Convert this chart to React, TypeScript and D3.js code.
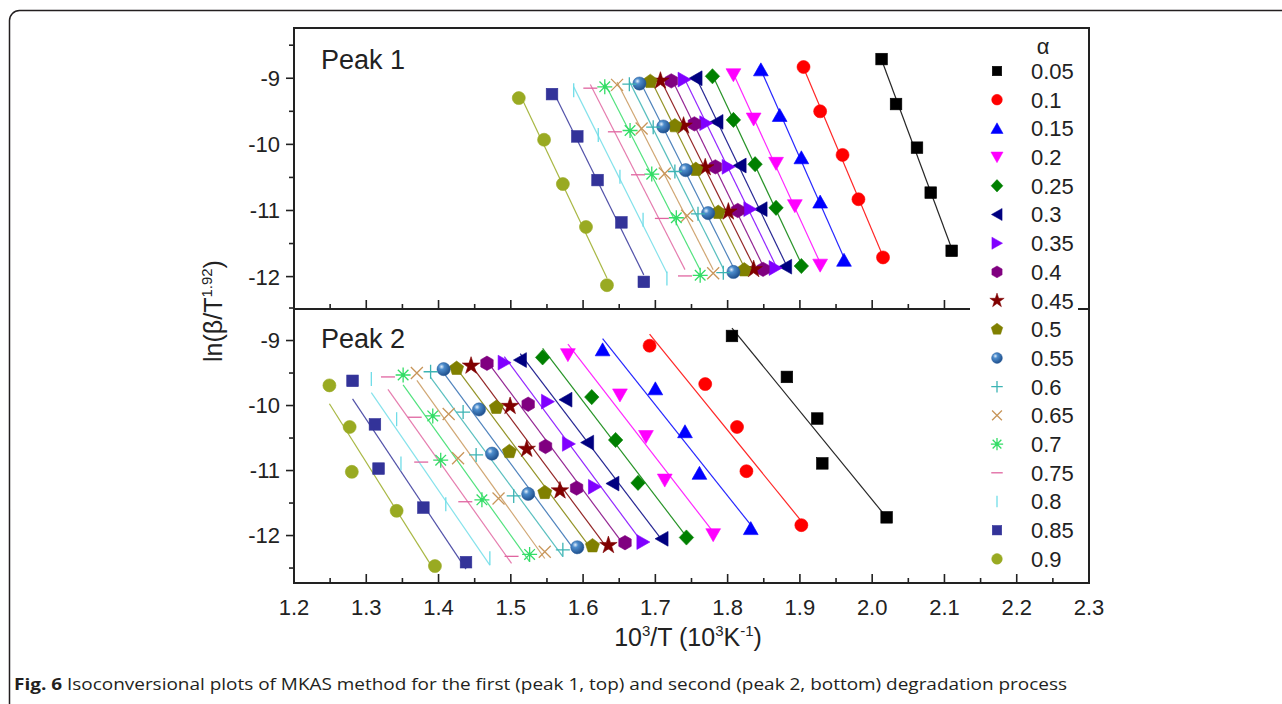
import React from "react";
import * as d3 from "d3";

// conversion levels (legend) and marker styles
const alphas = ["0.05", "0.1", "0.15", "0.2", "0.25", "0.3", "0.35", "0.4", "0.45", "0.5", "0.55", "0.6", "0.65", "0.7", "0.75", "0.8", "0.85", "0.9"];
const colors = ["#000000", "#ff0000", "#0000ff", "#ff00ff", "#008000", "#000080", "#8000ff", "#800080", "#800000", "#808000", "#2f6cb0", "#3cb4b4", "#c8965a", "#33dd66", "#e065a0", "#70dde8", "#333399", "#99aa22"];
const shapes = ["square", "circle", "triUp", "triDown", "diamond", "triLeft", "triRight", "hexagon", "star", "pentagon", "sphere", "plus", "cross", "asterisk", "dash", "bar", "square", "circle"];

// Peak 1 (top): 10^3/T and ln(beta/T^1.92), one row per alpha
const peak1X = [
  [2.013, 2.033, 2.062, 2.081, 2.11],
  [1.905, 1.928, 1.959, 1.981, 2.015],
  [1.846, 1.872, 1.902, 1.928, 1.961],
  [1.808, 1.836, 1.867, 1.893, 1.928],
  [1.779, 1.808, 1.838, 1.867, 1.902],
  [1.756, 1.785, 1.817, 1.846, 1.88],
  [1.74, 1.77, 1.801, 1.831, 1.866],
  [1.722, 1.754, 1.783, 1.814, 1.849],
  [1.707, 1.739, 1.769, 1.801, 1.836],
  [1.693, 1.727, 1.756, 1.787, 1.823],
  [1.678, 1.711, 1.742, 1.773, 1.808],
  [1.664, 1.697, 1.727, 1.759, 1.794],
  [1.647, 1.681, 1.713, 1.744, 1.78],
  [1.63, 1.665, 1.695, 1.729, 1.762],
  [1.61, 1.644, 1.676, 1.709, 1.741],
  [1.587, 1.621, 1.651, 1.683, 1.716],
  [1.557, 1.592, 1.62, 1.653, 1.684],
  [1.511, 1.546, 1.572, 1.604, 1.633],
];
const peak1Y = [
  [-8.71, -9.39, -10.05, -10.73, -11.61],
  [-8.83, -9.5, -10.16, -10.83, -11.71],
  [-8.87, -9.56, -10.2, -10.87, -11.75],
  [-8.95, -9.62, -10.29, -10.93, -11.83],
  [-8.97, -9.63, -10.3, -10.96, -11.84],
  [-9.0, -9.66, -10.32, -10.98, -11.85],
  [-9.02, -9.68, -10.34, -10.98, -11.87],
  [-9.04, -9.69, -10.34, -11.0, -11.89],
  [-9.04, -9.72, -10.35, -11.02, -11.89],
  [-9.05, -9.72, -10.38, -11.03, -11.9],
  [-9.08, -9.73, -10.39, -11.04, -11.93],
  [-9.09, -9.74, -10.41, -11.05, -11.94],
  [-9.1, -9.76, -10.44, -11.08, -11.95],
  [-9.13, -9.79, -10.45, -11.11, -11.98],
  [-9.15, -9.81, -10.46, -11.12, -11.99],
  [-9.18, -9.86, -10.49, -11.14, -12.03],
  [-9.24, -9.88, -10.54, -11.18, -12.08],
  [-9.3, -9.93, -10.6, -11.25, -12.13],
];

// Peak 2 (bottom)
const peak2X = [
  [1.806, 1.882, 1.924, 1.931, 2.02],
  [1.692, 1.769, 1.813, 1.826, 1.902],
  [1.627, 1.7, 1.741, 1.761, 1.832],
  [1.579, 1.651, 1.687, 1.713, 1.78],
  [1.544, 1.612, 1.645, 1.676, 1.743],
  [1.513, 1.576, 1.606, 1.641, 1.709],
  [1.491, 1.551, 1.58, 1.616, 1.683],
  [1.467, 1.524, 1.548, 1.591, 1.658],
  [1.445, 1.499, 1.522, 1.568, 1.635],
  [1.425, 1.48, 1.498, 1.547, 1.613],
  [1.407, 1.456, 1.474, 1.524, 1.592],
  [1.389, 1.434, 1.452, 1.504, 1.572],
  [1.37, 1.414, 1.427, 1.483, 1.547],
  [1.351, 1.392, 1.403, 1.46, 1.526],
  [1.33, 1.367, 1.376, 1.437, 1.501],
  [1.307, 1.342, 1.348, 1.41, 1.471],
  [1.281, 1.312, 1.317, 1.379, 1.438],
  [1.249, 1.277, 1.28, 1.342, 1.395],
];
const peak2Y = [
  [-8.93, -9.56, -10.2, -10.89, -11.72],
  [-9.08, -9.67, -10.33, -11.01, -11.84],
  [-9.14, -9.74, -10.4, -11.04, -11.89],
  [-9.22, -9.84, -10.48, -11.15, -11.99],
  [-9.26, -9.87, -10.53, -11.19, -12.03],
  [-9.3, -9.91, -10.57, -11.2, -12.05],
  [-9.34, -9.94, -10.59, -11.25, -12.1],
  [-9.35, -9.98, -10.63, -11.27, -12.11],
  [-9.39, -10.01, -10.67, -11.31, -12.15],
  [-9.43, -10.03, -10.71, -11.34, -12.16],
  [-9.44, -10.06, -10.74, -11.36, -12.18],
  [-9.48, -10.1, -10.76, -11.39, -12.22],
  [-9.5, -10.13, -10.81, -11.43, -12.25],
  [-9.53, -10.16, -10.84, -11.45, -12.29],
  [-9.56, -10.18, -10.87, -11.48, -12.32],
  [-9.59, -10.21, -10.89, -11.52, -12.35],
  [-9.62, -10.29, -10.97, -11.57, -12.41],
  [-9.69, -10.33, -11.02, -11.62, -12.47],
];

const yTickVals = [-9, -10, -11, -12];
const yMinorVals = [-8.5, -9.5, -10.5, -11.5, -12.5];

const FONT = "Liberation Sans, Arial, Helvetica, sans-serif";
const txt = { fontFamily: FONT };

const left = 294, right = 1089, top = 28, mid = 309, bottom = 583;
const x = d3.scaleLinear().domain([1.2, 2.3]).range([left, right]);
const yTop = d3.scaleLinear().domain([-12.49, -8.24]).range([mid, top]);
const yBot = d3.scaleLinear().domain([-12.73, -8.515]).range([bottom, mid]);

const poly = (pts: number[][]) => "M" + pts.map((p) => p.join(",")).join("L") + "Z";
const ngon = (n: number, r: number) =>
  poly(d3.range(n).map((i) => {
    const a = -Math.PI / 2 + (i * 2 * Math.PI) / n;
    return [r * Math.cos(a), r * Math.sin(a)];
  }));

function Marker({ kind, color, cx, cy, k = 1 }: any) {
  const t = `translate(${cx},${cy}) scale(${k})`;
  const fill = { fill: color, stroke: color, strokeWidth: 0.6 };
  const ln = { stroke: color, strokeWidth: 1.3 / k, fill: "none" };
  switch (kind) {
    case "square":
      return <rect transform={t} x={-5.8} y={-5.8} width={11.6} height={11.6} {...fill} />;
    case "circle":
      return <circle transform={t} r={6.5} {...fill} />;
    case "sphere":
      return <circle transform={t} r={6.6} fill="url(#sph)" stroke="#245a9a" strokeWidth={0.5} />;
    case "triUp":
      return <path transform={t} d={poly([[0, -6.8], [7.4, 6.2], [-7.4, 6.2]])} {...fill} />;
    case "triDown":
      return <path transform={t} d={poly([[0, 6.8], [7.4, -6.2], [-7.4, -6.2]])} {...fill} />;
    case "triLeft":
      return <path transform={t} d={poly([[-6.8, 0], [6.2, -7.4], [6.2, 7.4]])} {...fill} />;
    case "triRight":
      return <path transform={t} d={poly([[6.8, 0], [-6.2, -7.4], [-6.2, 7.4]])} {...fill} />;
    case "diamond":
      return <path transform={t} d={poly([[0, -7.6], [7.2, 0], [0, 7.6], [-7.2, 0]])} {...fill} />;
    case "hexagon":
      return <path transform={t} d={ngon(6, 7.2)} {...fill} />;
    case "pentagon":
      return <path transform={t} d={ngon(5, 7.4)} {...fill} />;
    case "star":
      return <path transform={t} d={d3.symbol(d3.symbolStar, 95)()!} {...fill} />;
    case "plus":
      return <path transform={t} d="M-7,0H7M0,-7V7" {...ln} />;
    case "cross":
      return <path transform={t} d="M-6,-6L6,6M-6,6L6,-6" {...ln} />;
    case "asterisk":
      return (
        <g transform={t}>
          <path d="M-7.5,0H7.5M0,-7.5V7.5M-5.3,-5.3L5.3,5.3M-5.3,5.3L5.3,-5.3" {...ln} />
          <circle r={1.8} fill={color} />
        </g>
      );
    case "dash":
      return <path transform={t} d="M-7,0H7" {...ln} />;
    case "bar":
      return <path transform={t} d="M0,-7V7" {...ln} />;
  }
  return null;
}

function fitLine(xs: number[], ys: number[]) {
  const mx = d3.mean(xs)!, my = d3.mean(ys)!;
  const sxy = d3.sum(xs, (v, i) => (v - mx) * (ys[i] - my));
  const sxx = d3.sum(xs, (v) => (v - mx) ** 2);
  const b = sxy / sxx;
  const x0 = d3.min(xs)!, x1 = d3.max(xs)!;
  return [[x0, my + b * (x0 - mx)], [x1, my + b * (x1 - mx)]];
}

function Panel({ xs, ys, y }: any) {
  const line = d3.line<number[]>().x((d) => x(d[0])).y((d) => y(d[1]));
  return (
    <g>
      {xs.map((row: number[], i: number) => (
        <path key={"l" + i} d={line(fitLine(row, ys[i]))!} stroke={colors[i]} strokeWidth={1.2} fill="none" opacity={0.85} />
      ))}
      {xs.map((row: number[], i: number) =>
        row.map((v, j) => <Marker key={i + "-" + j} kind={shapes[i]} color={colors[i]} cx={x(v)} cy={y(ys[i][j])} />)
      )}
    </g>
  );
}

function YAxis({ y }: any) {
  return (
    <g>
      {yTickVals.map((v) => (
        <g key={v}>
          <line x1={left - 8} x2={left} y1={y(v)} y2={y(v)} stroke="#222" strokeWidth={1.6} />
          <text x={left - 14} y={y(v)} dy="0.36em" textAnchor="end" fontSize={22} style={txt} fill="#222">
            {v}
          </text>
        </g>
      ))}
      {yMinorVals.filter((v) => y(v) > top + 2 && y(v) < y.range()[0] - 2).map((v) => (
        <line key={v} x1={left - 5} x2={left} y1={y(v)} y2={y(v)} stroke="#222" strokeWidth={1.6} />
      ))}
    </g>
  );
}

function XTicks({ yPos }: any) {
  const minor = x.ticks(22);
  const major = x.ticks(11).map((v) => +v.toFixed(2));
  return (
    <g>
      {minor.map((v) => {
        const isMajor = major.includes(+v.toFixed(2));
        return <line key={v} x1={x(v)} x2={x(v)} y1={yPos} y2={yPos - (isMajor ? 9 : 5)} stroke="#222" strokeWidth={1.6} />;
      })}
    </g>
  );
}

export default function App() {
  const major = x.ticks(11);
  return (
    <svg width={1282} height={704} style={{ position: "absolute", left: 0, top: 0, background: "#fff" }}>
      <defs>
        <radialGradient id="sph" cx="35%" cy="32%" r="70%">
          <stop offset="0%" stopColor="#e4f0fb" />
          <stop offset="30%" stopColor="#4c8ccc" />
          <stop offset="100%" stopColor="#1f4f8c" />
        </radialGradient>
      </defs>
      <rect x={9.5} y={10.5} width={1320} height={740} rx={10} fill="#fff" stroke="#231f20" strokeWidth={1.5} />

      <Panel xs={peak1X} ys={peak1Y} y={yTop} />
      <Panel xs={peak2X} ys={peak2Y} y={yBot} />

      <XTicks yPos={mid} />
      <XTicks yPos={bottom} />
      <YAxis y={yTop} />
      <YAxis y={yBot} />
      <line x1={left} x2={right} y1={mid} y2={mid} stroke="#222" strokeWidth={2} />
      <rect x={left} y={top} width={right - left} height={bottom - top} fill="none" stroke="#222" strokeWidth={2} />

      {/* legend */}
      <rect x={970} y={31} width={108} height={540} fill="#fff" />
      <text x={1043} y={46} dy="0.35em" textAnchor="middle" fontSize={22} style={txt} fill="#222">α</text>
      {alphas.map((a, i) => {
        const cy = 71 + i * 28.7;
        return (
          <g key={a}>
            <Marker kind={shapes[i]} color={colors[i]} cx={997} cy={cy} k={0.82} />
            <text x={1031} y={cy} dy="0.36em" fontSize={22} style={txt} fill="#222">{a}</text>
          </g>
        );
      })}

      <text x={321} y={69} fontSize={27} style={txt} fill="#222">Peak 1</text>
      <text x={321} y={348} fontSize={27} style={txt} fill="#222">Peak 2</text>

      {major.map((v) => (
        <text key={v} x={x(v)} y={607} dy="0.36em" textAnchor="middle" fontSize={22} style={txt} fill="#222">
          {v.toFixed(1)}
        </text>
      ))}

      <text x={688} y={646} textAnchor="middle" fontSize={25} style={txt} fill="#222">
        10<tspan dy={-10} fontSize={15}>3</tspan>
        <tspan dy={10}>/T (10</tspan>
        <tspan dy={-10} fontSize={15}>3</tspan>
        <tspan dy={10}>K</tspan>
        <tspan dy={-10} fontSize={15}>-1</tspan>
        <tspan dy={10}>)</tspan>
      </text>

      <text transform="translate(222,311) rotate(-90)" textAnchor="middle" fontSize={25} style={txt} fill="#222">
        ln(β/T<tspan dy={-10} fontSize={15}>1.92</tspan>
        <tspan dy={10}>)</tspan>
      </text>

      <text x={14} y={690} fontSize={16} fontFamily="Open Sans, sans-serif" fill="#231f20" textLength={1053} lengthAdjust="spacingAndGlyphs">
        <tspan fontWeight="bold">Fig. 6</tspan> Isoconversional plots of MKAS method for the first (peak 1, top) and second (peak 2, bottom) degradation process
      </text>
    </svg>
  );
}
